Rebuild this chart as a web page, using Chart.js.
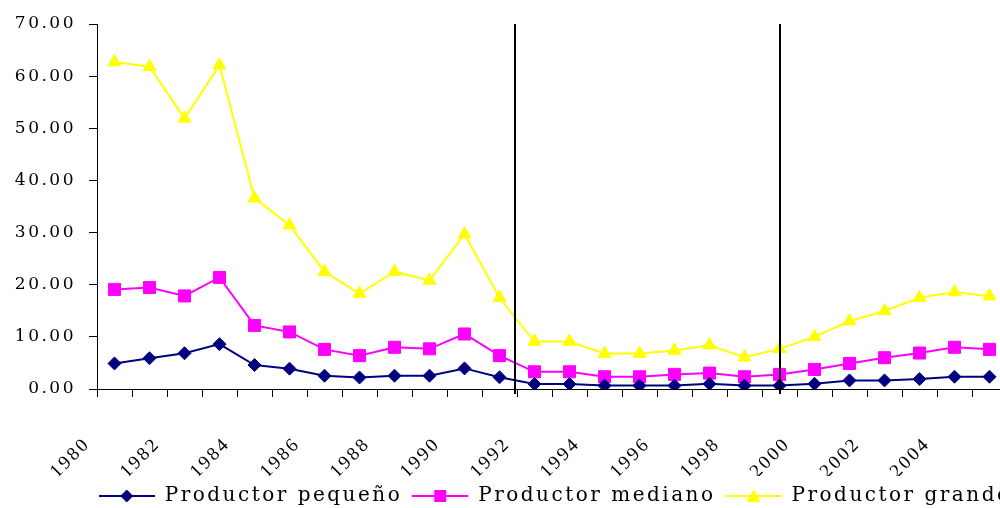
<!DOCTYPE html>
<html lang="es">
  <head>
    <meta charset="UTF-8" />
    <title>Productores</title>
    <script src="https://cdn.jsdelivr.net/npm/chart.js"></script>
    <style>
      html, body { margin: 0; padding: 0; background: #fff; overflow: hidden; }
      .wrap { width: 1000px; height: 508px; overflow: hidden; position: relative; }
      canvas { display: block; }
    </style>
  </head>
  <body>
    <div class="wrap">
      <canvas id="chart-1" width="1110" height="508"></canvas>
    </div>
    <script>
      const years = [
        "1980", "1981", "1982", "1983", "1984", "1985", "1986", "1987", "1988",
        "1989", "1990", "1991", "1992", "1993", "1994", "1995", "1996", "1997",
        "1998", "1999", "2000", "2001", "2002", "2003", "2004", "2005",
      ];
      const pequeno = [
        4.9, 5.9, 6.85, 8.6, 4.6, 3.9, 2.55, 2.2, 2.55, 2.55, 3.95, 2.25, 0.95,
        0.95, 0.65, 0.65, 0.65, 1.0, 0.65, 0.65, 1.0, 1.65, 1.65, 1.9, 2.35, 2.35,
      ];
      const mediano = [
        19.1, 19.45, 17.85, 21.4, 12.2, 10.95, 7.6, 6.4, 8.0, 7.7, 10.55, 6.4, 3.3,
        3.3, 2.35, 2.35, 2.8, 3.05, 2.35, 2.8, 3.75, 4.9, 6.0, 6.9, 8.0, 7.6,
      ];
      const grande = [
        62.7, 61.8, 51.9, 62.1, 36.6, 31.4, 22.5, 18.3, 22.5, 20.8, 29.7, 17.5,
        9.1, 9.1, 6.8, 6.8, 7.4, 8.4, 6.1, 7.7, 10.0, 13.0, 14.95, 17.5, 18.6, 17.8,
      ];
      const seriesNames = ["Productor pequeño", "Productor mediano", "Productor grande"];
      // category positions of the two vertical divider lines
      const dividerAt = [11.44, 19];

      const serif = "'DejaVu Serif', serif";
      const padBottom = -8;

      // legend sample: line with marker in the middle
      function legendSample(color, shape) {
        const c = document.createElement("canvas");
        c.width = 56;
        c.height = 16;
        const g = c.getContext("2d");
        g.strokeStyle = color;
        g.fillStyle = color;
        g.lineWidth = 2;
        g.beginPath();
        g.moveTo(0, 8);
        g.lineTo(56, 8);
        g.stroke();
        g.beginPath();
        if (shape === "diamond") {
          g.moveTo(28, 1.5); g.lineTo(34.5, 8); g.lineTo(28, 14.5); g.lineTo(21.5, 8);
        } else if (shape === "square") {
          g.rect(22, 2, 12, 12);
        } else {
          g.moveTo(28, 1); g.lineTo(35, 14); g.lineTo(21, 14);
        }
        g.closePath();
        g.fill();
        return c;
      }

      const colors = ["#000080", "#ff00ff", "#ffff00"];
      const samples = [
        legendSample(colors[0], "diamond"),
        legendSample(colors[1], "square"),
        legendSample(colors[2], "triangle"),
      ];

      const extras = {
        id: "extras",
        beforeUpdate(chart) {
          chart.ctx.letterSpacing = "2.5px";
        },
        beforeDraw(chart) {
          chart.ctx.letterSpacing = "2.5px";
        },
        afterDatasetsDraw(chart) {
          const ctx = chart.ctx;
          const x = chart.scales.x;
          const area = chart.chartArea;
          ctx.save();
          ctx.strokeStyle = "#000";
          ctx.lineWidth = 2;
          dividerAt.forEach((v) => {
            const px = Math.round(x.getPixelForValue(v));
            ctx.beginPath();
            ctx.moveTo(px, area.top);
            ctx.lineTo(px, area.bottom + 5);
            ctx.stroke();
          });
          ctx.restore();
          ctx.letterSpacing = "0px";
        },
      };

      new Chart(document.getElementById("chart-1"), {
        type: "line",
        data: {
          labels: years,
          datasets: [
            {
              label: seriesNames[0],
              data: pequeno,
              borderColor: colors[0],
              backgroundColor: colors[0],
              borderWidth: 2,
              pointStyle: "rectRot",
              pointRadius: 6.5,
              pointBorderWidth: 1,
            },
            {
              label: seriesNames[1],
              data: mediano,
              borderColor: colors[1],
              backgroundColor: colors[1],
              borderWidth: 2,
              pointStyle: "rect",
              pointRadius: 8.5,
              pointBorderWidth: 1,
            },
            {
              label: seriesNames[2],
              data: grande,
              borderColor: colors[2],
              backgroundColor: colors[2],
              borderWidth: 2,
              pointStyle: "triangle",
              pointRadius: 7.5,
              pointBorderWidth: 1,
            },
          ],
        },
        options: {
          responsive: false,
          animation: false,
          layout: { padding: { top: 24, left: 0, right: 0, bottom: padBottom } },
          plugins: {
            tooltip: { enabled: false },
            legend: {
              position: "bottom",
              labels: {
                usePointStyle: true,
                pointStyleWidth: 56,
                color: "#000",
                padding: 10,
                font: { family: serif, size: 20 },
                generateLabels(chart) {
                  return chart.data.datasets.map((ds, i) => ({
                    text: ds.label,
                    pointStyle: samples[i],
                    fillStyle: colors[i],
                    strokeStyle: colors[i],
                    lineWidth: 0,
                    fontColor: "#000",
                    datasetIndex: i,
                  }));
                },
              },
            },
          },
          scales: {
            x: {
              type: "category",
              offset: true,
              z: 1,
              grid: {
                offset: true,
                drawOnChartArea: false,
                tickLength: 8,
                color: "#000",
              },
              border: { color: "#000", width: 1 },
              ticks: {
                autoSkip: false,
                maxRotation: 45,
                minRotation: 45,
                labelOffset: -27,
                padding: 36,
                color: "#000",
                font: { family: "'Liberation Serif', serif", size: 19 },
                callback: (v, i) => (i % 2 === 0 ? years[i] : ""),
              },
              afterFit(s) {
                s.height = 508 - padBottom - s.chart.legend.height - 389;
              },
            },
            y: {
              min: 0,
              max: 70,
              grid: {
                drawOnChartArea: false,
                tickLength: 8,
                color: "#000",
              },
              border: { color: "#000", width: 1 },
              ticks: {
                stepSize: 10,
                padding: 13,
                color: "#000",
                font: { family: serif, size: 17 },
                callback: (v) => v.toFixed(2),
              },
              afterFit(s) {
                s.width = 97;
              },
            },
            yR: {
              position: "right",
              grid: { display: false },
              border: { display: false },
              ticks: { display: false },
              afterFit(s) {
                s.width = 1110 - 1007;
              },
            },
          },
        },
        plugins: [extras],
      });
    </script>
  </body>
</html>
